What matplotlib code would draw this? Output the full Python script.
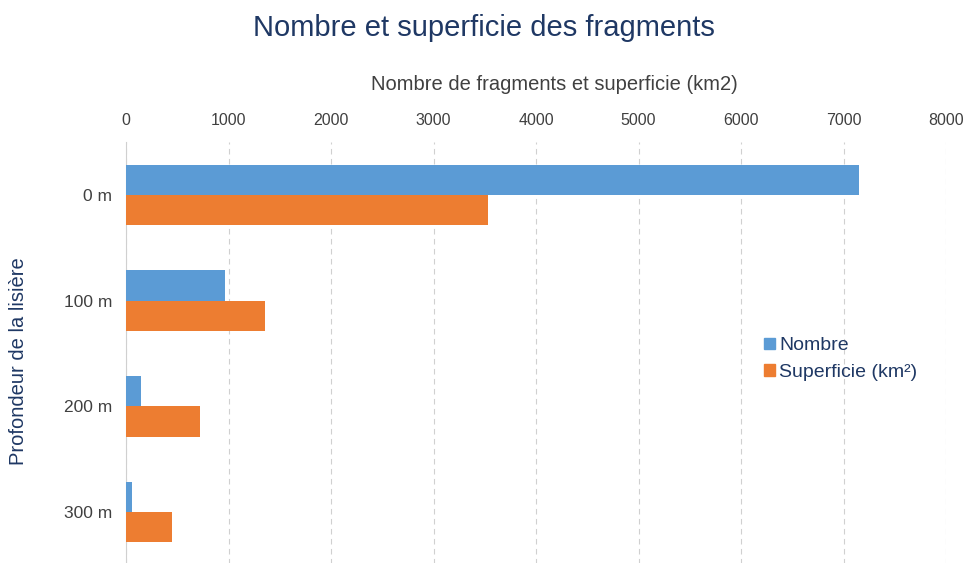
import numpy as np
import matplotlib.pyplot as plt
from matplotlib.patches import Patch

# Data
categories = ['0 m', '100 m', '200 m', '300 m']
nombre = [7150, 970, 150, 55]
superficie = [3530, 1360, 725, 450]

blue = '#5B9BD5'
orange = '#ED7D31'
text_col = '#404040'
title_col = '#1F3864'

plt.rcParams['font.family'] = ['Liberation Sans', 'DejaVu Sans']

fig = plt.figure(figsize=(9.67, 5.63), dpi=100)
ax = fig.add_axes([0.1303, -0.004, 0.848, 0.752])

y = np.arange(len(categories))
h = 0.285
ax.barh(y - h / 2, nombre, height=h, color=blue, label='Nombre', zorder=3)
ax.barh(y + h / 2, superficie, height=h, color=orange, label='Superficie (km²)', zorder=3)

ax.set_ylim(len(categories) - 0.5, -0.5)
ax.set_xlim(0, 8000)
ax.set_yticks(y)
ax.set_yticklabels(categories, fontsize=12.5, color=text_col)
ax.set_xticks(np.arange(0, 8001, 1000))

ax.xaxis.tick_top()
ax.xaxis.set_label_position('top')
ax.tick_params(axis='x', length=0, pad=10, labelsize=11.5, labelcolor=text_col)
ax.tick_params(axis='y', length=0, pad=10)
ax.set_xlabel('Nombre de fragments et superficie (km2)', fontsize=14.5, color=text_col)
ax.xaxis.label.set_va('center')
ax.xaxis.set_label_coords(0.522, 1.135)
ax.set_ylabel('Profondeur de la lisière', fontsize=14.5, color=title_col)
ax.yaxis.label.set_va('center')
ax.yaxis.set_label_coords(-0.1305, 0.482)

ax.grid(axis='x', color='#D0D0D0', linestyle=(0, (5, 4)), linewidth=0.8, zorder=0)
for s in ['top', 'right', 'bottom']:
    ax.spines[s].set_visible(False)
ax.spines['left'].set_color('#D0D0D0')
ax.spines['left'].set_linewidth(0.8)

handles = [Patch(color=blue, label='Nombre'), Patch(color=orange, label='Superficie (km²)')]
leg = fig.legend(handles=handles, loc='center left', bbox_to_anchor=(0.790, 0.362),
                 frameon=False, fontsize=14, handlelength=0.55, handleheight=0.55,
                 handletextpad=0.25, labelspacing=0.5, borderpad=0, borderaxespad=0)
for t in leg.get_texts():
    t.set_color(title_col)

fig.text(0.5, 0.951, 'Nombre et superficie des fragments', ha='center', va='center',
         fontsize=21, color=title_col)

fig.savefig('out.png', dpi=100)
